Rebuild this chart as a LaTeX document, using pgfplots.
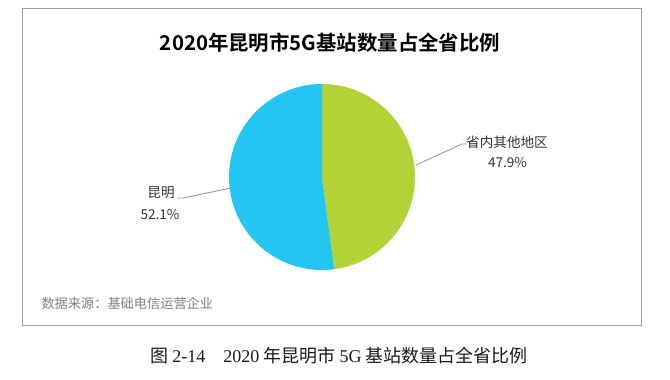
\documentclass[border=0pt]{standalone}
\usepackage{pgfplots}
\pgfplotsset{compat=1.18}
\usepackage{fontspec}
\setmainfont{Liberation Sans}
\newfontfamily\cjk{Noto Sans CJK SC}
\newfontfamily\cjkb{Noto Sans CJK SC Bold}
\newfontfamily\serifdigits{Liberation Serif}
\definecolor{pgreen}{HTML}{B2D235}
\definecolor{pcyan}{HTML}{22C6F0}
\definecolor{framegray}{HTML}{A0A0A0}
\definecolor{srcgray}{HTML}{7F7F7F}
\definecolor{leadgray}{HTML}{9A9A9A}
\begin{document}
\begin{tikzpicture}
\begin{axis}[
  scale only axis, width=670bp, height=379bp,
  xmin=0, xmax=670, ymin=0, ymax=379,
  hide axis, clip=false,
]
% data: share of provincial 5G base stations (%)
\def\vOther{47.9}
\def\vKM{52.1}
\pgfmathsetmacro{\aOther}{3.6*\vOther}
\pgfmathsetmacro{\endA}{90-\aOther}
\path (axis cs:0,0) rectangle (axis cs:670,379);
% frame
\draw[framegray, line width=0.8bp] (axis cs:22,54) rectangle (axis cs:641,371);
% title
\node[font={\cjkb\fontsize{20.4bp}{24bp}\selectfont}] at (axis cs:330,336) {2020年昆明市5G基站数量占全省比例};
% pie
\fill[pgreen] (axis cs:322,202) -- ++(90:93bp) arc[start angle=90, end angle=\endA, radius=93bp] -- cycle;
\fill[pcyan] (axis cs:322,202) -- ++(\endA:93bp) arc[start angle=\endA, end angle=-270, radius=93bp] -- cycle;
% leaders
\draw[leadgray, line width=0.9bp] (axis cs:416,214) -- (axis cs:462,235) -- (axis cs:467,235);
\draw[leadgray, line width=0.9bp] (axis cs:231,191) -- (axis cs:183,181) -- (axis cs:177,181);
% labels
\node[font={\cjk\fontsize{13.6bp}{15bp}\selectfont}, text=black!80] at (axis cs:507,237) {省内其他地区};
\node[font={\cjk\fontsize{13.6bp}{15bp}\selectfont}, text=black!80] at (axis cs:507.5,216) {47.9\%};
\node[font={\cjk\fontsize{13.6bp}{15bp}\selectfont}, text=black!80] at (axis cs:161,186) {昆明};
\node[font={\cjk\fontsize{13.6bp}{15bp}\selectfont}, text=black!80] at (axis cs:160,164) {52.1\%};
% source
\node[anchor=west, font={\cjk\fontsize{13.2bp}{15bp}\selectfont}, text=srcgray] at (axis cs:38,76) {数据来源：基础电信运营企业};
% caption
\node[font={\cjk\fontsize{18bp}{20bp}\selectfont}, text=black!90] at (axis cs:339,23) {图 {\serifdigits 2-14}\hspace{1em}{\serifdigits 2020} 年昆明市 {\serifdigits 5G} 基站数量占全省比例};
\end{axis}
\end{tikzpicture}
\end{document}
